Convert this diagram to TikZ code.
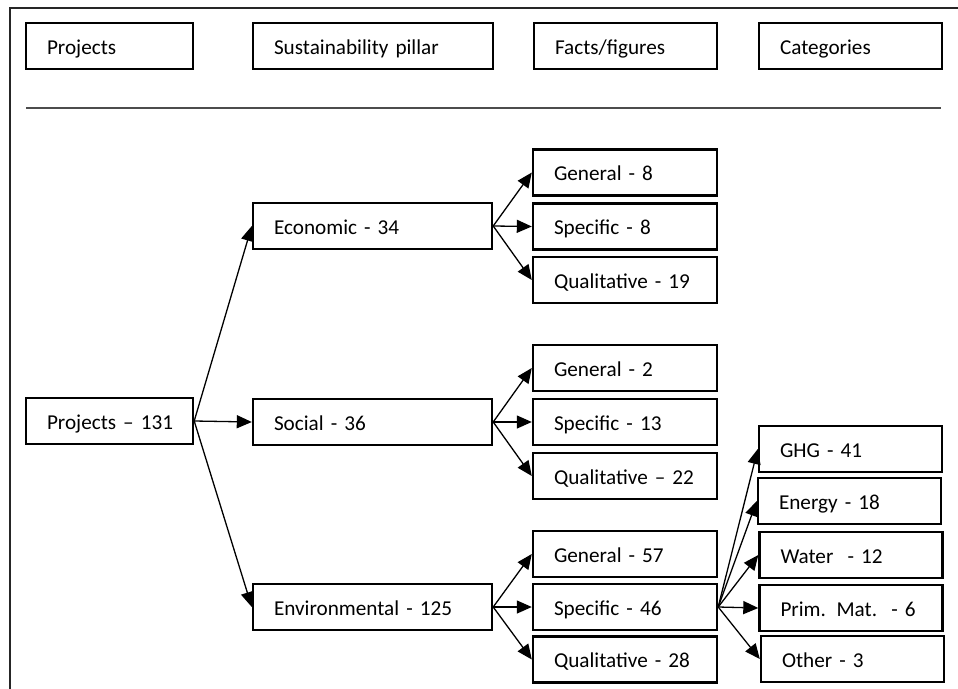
\documentclass[tikz,border=0pt]{standalone}
\usepackage{fontspec}
\setmainfont{Carlito}
\usetikzlibrary{arrows.meta}
\begin{document}
\begin{tikzpicture}[x=1pt,y=-1pt,
  box/.style={draw=black, line width=2.4pt, minimum height=46pt, inner xsep=0pt, inner ysep=0pt,
    align=left, text height=17pt, text depth=1pt, font=\fontsize{21.2}{25}\selectfont,
    execute at begin node={\hspace*{21pt}}},
  wA/.style={box, text width=167pt},
  wB/.style={box, text width=240pt},
  wC/.style={box, text width=183pt},
  wD/.style={box, text width=239pt},
  wE/.style={box, text width=184pt},
  arr/.style={draw=black, line width=1.3pt, -{Triangle[length=15pt,width=13pt]}},
  frameline/.style={draw=black!85, line width=2pt},
  sepline/.style={draw=black!70, line width=1.6pt}]
\useasboundingbox (0,0) rectangle (958,688);
% frame
\coordinate (fbl) at (10,690);
\coordinate (ftl) at (10,8);
\coordinate (ftr) at (960,8);
\draw[frameline] (fbl) -- (ftl) -- (ftr);
% header
\node[wA] (hProj) at (109.5,46) {Projects};
\node[wB] (hPillar) at (373,46) {Sustainability pillar};
\node[wC] (hFacts) at (625.5,46) {Facts/figures};
\node[wC] (hCat) at (850.5,46) {Categories};
\coordinate (sl) at (26,108);
\coordinate (sr) at (941,108);
\draw[sepline] (sl) -- (sr);
% projects
\node[wA] (proj) at (109.5,421) {Projects – 131};
% pillars
\node[wD] (eco) at (372.5,226) {Economic - 34};
\node[wD] (soc) at (372.5,422) {Social - 36};
\node[wD] (env) at (372.5,607) {Environmental - 125};
% facts economic
\node[wE] (ecoG) at (625,172.5) {General - 8};
\node[wE] (ecoS) at (625,226.5) {Specific - 8};
\node[wE] (ecoQ) at (625,280) {Qualitative - 19};
% facts social
\node[wE] (socG) at (625,368) {General - 2};
\node[wE] (socS) at (625,422) {Specific - 13};
\node[wE] (socQ) at (625,476) {Qualitative – 22};
% facts environmental
\node[wE] (envG) at (625,554) {General - 57};
\node[wE] (envS) at (625,607) {Specific - 46};
\node[wE] (envQ) at (625,659.5) {Qualitative - 28};
% categories
\node[wC] (ghg) at (850.5,449) {GHG - 41};
\node[wC] (ene) at (849.5,501) {Energy - 18};
\node[wC] (wat) at (851,555) {Water\ \ - 12};
\node[wC] (pri) at (851,608) {Prim. Mat.\ \ - 6};
\node[wC] (oth) at (852.5,659) {Other - 3};
% arrows
\draw[arr] (proj.east) -- (eco.west);
\draw[arr] (proj.east) -- (soc.west);
\draw[arr] (proj.east) -- (env.west);
\foreach \s/\t in {eco/ecoG, eco/ecoS, eco/ecoQ, soc/socG, soc/socS, soc/socQ, env/envG, env/envS, env/envQ}
  \draw[arr] (\s.east) -- (\t.west);
\foreach \t in {ghg, ene, wat, pri, oth}
  \draw[arr] (envS.east) -- (\t.west);
\end{tikzpicture}
\end{document}
